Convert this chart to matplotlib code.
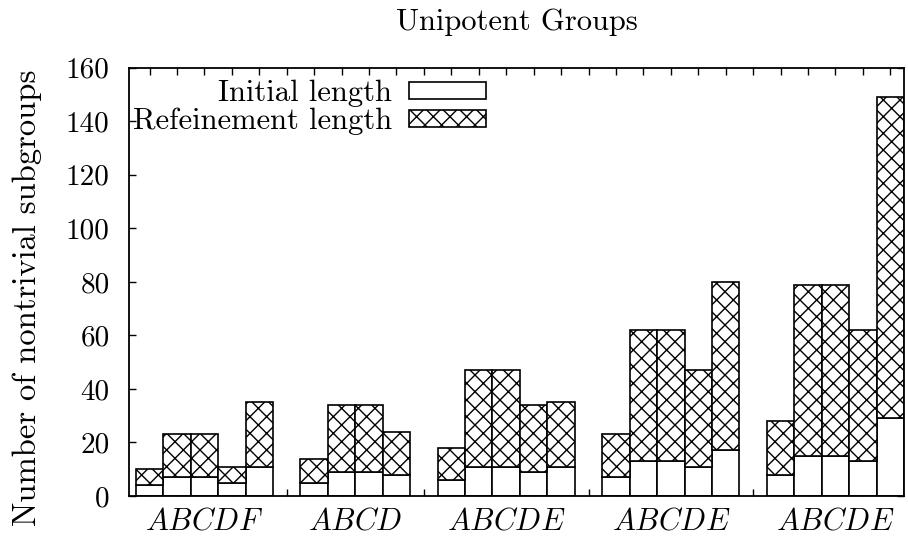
import matplotlib
matplotlib.use("Agg")
import matplotlib.pyplot as plt
import numpy as np

plt.rcParams['font.family'] = ['cmr10', 'DejaVu Serif']
plt.rcParams['mathtext.fontset'] = 'cm'
plt.rcParams['axes.unicode_minus'] = False
plt.rcParams['hatch.linewidth'] = 1.0
plt.rcParams['hatch.color'] = 'black'

# groups of bars
group_labels = ["$ABCDF$", "$ABCD$", "$ABCDE$", "$ABCDE$", "$ABCDE$"]
initial_len = [
    [4, 7, 7, 5, 11],
    [5, 9, 9, 8],
    [6, 11, 11, 9, 11],
    [7, 13, 13, 11, 17],
    [8, 15, 15, 13, 29],
]
refine_len = [
    [6, 16, 16, 6, 24],
    [9, 25, 25, 16],
    [12, 36, 36, 25, 24],
    [16, 49, 49, 36, 63],
    [20, 64, 64, 49, 120],
]

# bar positions: one slot per bar, one empty slot between groups
xs, centers = [], []
pos = 0
for g in initial_len:
    p = np.arange(pos, pos + len(g))
    xs.append(p)
    centers.append(p.mean())
    pos += len(g) + 1

x = np.concatenate(xs)
init = np.concatenate(initial_len)
refi = np.concatenate(refine_len)

fig = plt.figure(figsize=(9.08, 5.37), dpi=100)
ax = fig.add_axes([129 / 908, 1 - 496 / 537, 775 / 908, (496 - 67.7) / 537])

ax.bar(x, init, width=1.0, color='white', edgecolor='black', linewidth=1.2,
       label='Initial length')
ax.bar(x, refi, width=1.0, bottom=init, color='white', edgecolor='black',
       linewidth=1.2, hatch='xx', label='Refeinement length')

ax.set_axisbelow(True)
ax.xaxis.remove_overlapping_locs = False
ax.set_xlim(-0.75, x[-1] + 0.5)
ax.set_ylim(0, 160)
ax.set_yticks(np.arange(0, 161, 20))
ax.set_xticks(np.arange(0, x[-1] + 1))
ax.set_xticklabels([])
ax.set_xticks(centers, minor=True)
ax.set_xticklabels(group_labels, minor=True, fontsize=22)

ax.tick_params(axis='both', which='major', direction='in', length=5, width=1,
               top=True, right=True, labelsize=21)
ax.tick_params(axis='y', pad=14)
ax.tick_params(axis='x', which='minor', length=0, pad=9)
for s in ax.spines.values():
    s.set_linewidth(1.3)

ax.set_title('Unipotent Groups', fontsize=22, pad=27)
ax.set_ylabel('Number of nontrivial subgroups', fontsize=23.5)
ax.yaxis.set_label_coords(-0.112, 0.4635)

leg = ax.legend(loc='upper right', bbox_to_anchor=((488 - 129) / 775, 0.975),
                frameon=False, markerfirst=False, fontsize=22,
                handlelength=2.55, handleheight=0.49, handletextpad=0.55,
                labelspacing=0.02, borderpad=0.05, borderaxespad=0.0)

fig.savefig('out.png', dpi=100)
